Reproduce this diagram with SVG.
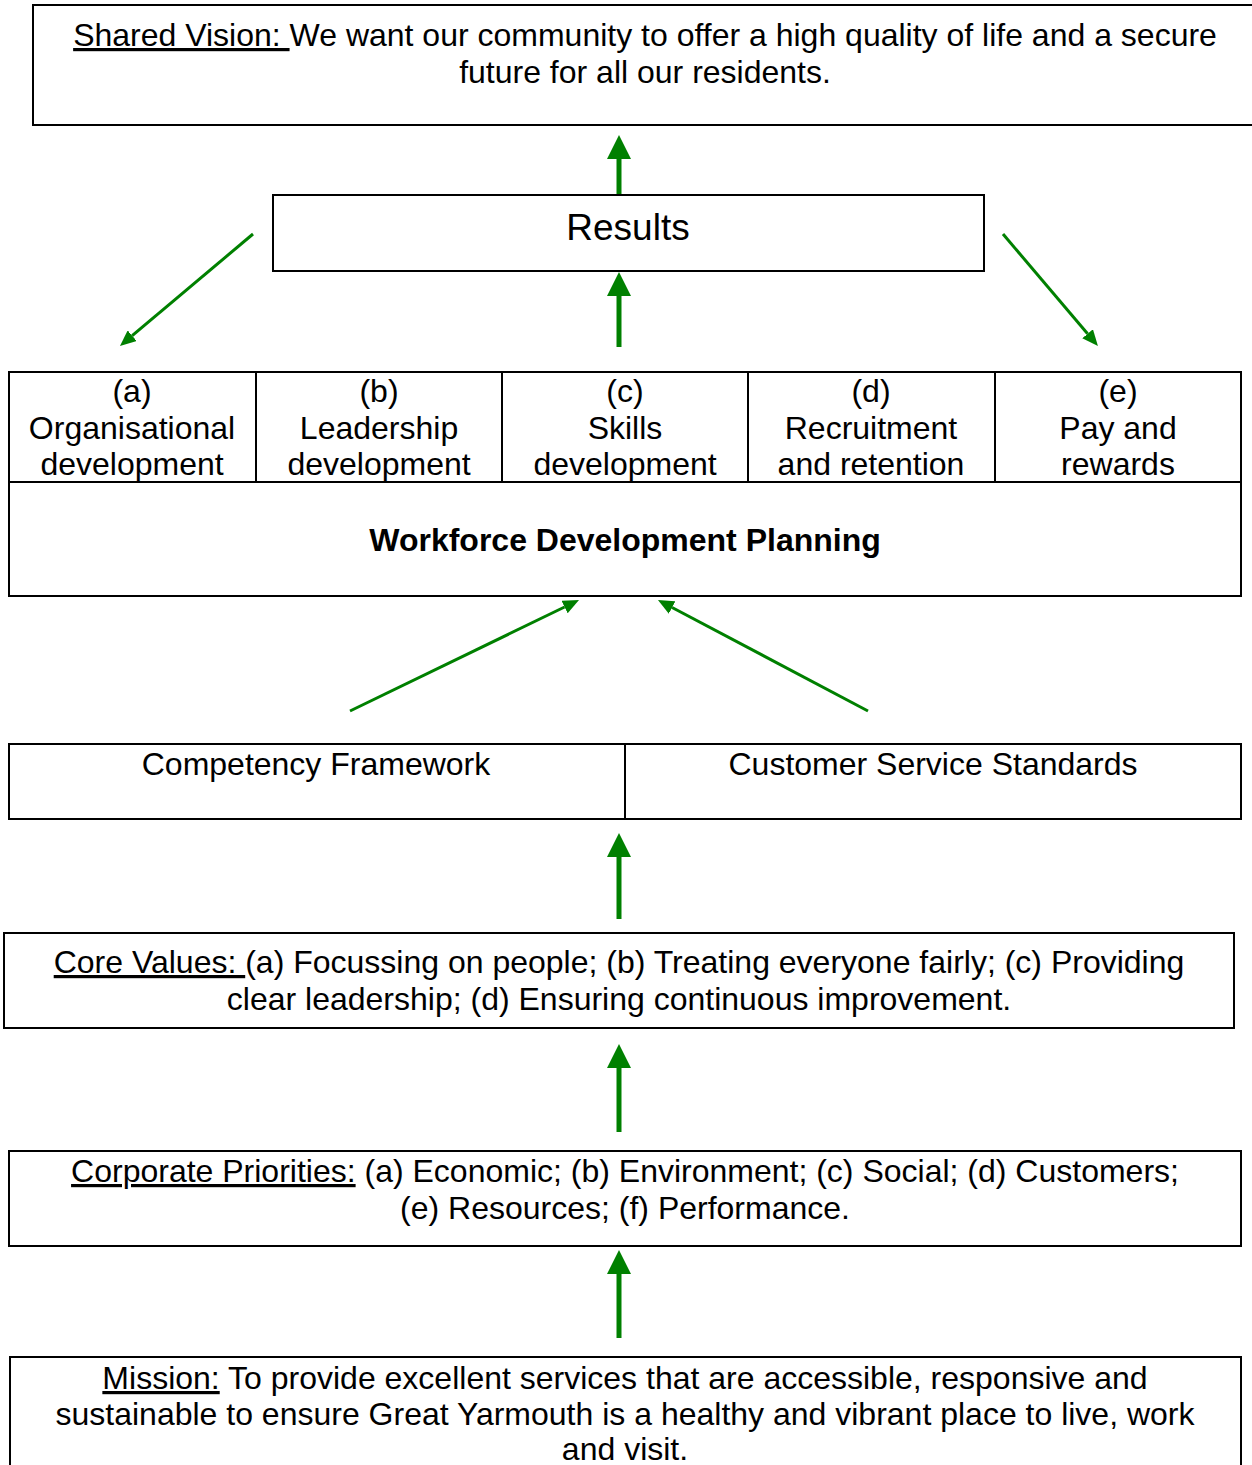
<svg xmlns="http://www.w3.org/2000/svg" width="1252" height="1465" viewBox="0 0 1252 1465">
<style>
.box{fill:#fff;stroke:#000;stroke-width:2}
.div{stroke:#000;stroke-width:2}
text{font-family:"Liberation Sans",Arial,sans-serif;font-size:32px;fill:#000;text-anchor:middle}
.u{text-decoration:underline}
.b{font-weight:bold}
.thick{stroke:#008000;stroke-width:5;fill:none}
.thin{stroke:#008000;stroke-width:3;fill:none}
</style>
<defs>
<marker id="big" markerUnits="userSpaceOnUse" markerWidth="24" markerHeight="24" refX="0" refY="12" orient="auto" viewBox="0 0 24 24">
<path d="M0,0 L24,12 L0,24 z" fill="#008000"/>
</marker>
<marker id="small" markerUnits="userSpaceOnUse" markerWidth="16" markerHeight="14" refX="0" refY="7" orient="auto" viewBox="0 0 16 14">
<path d="M0,0 L16,7 L0,14 z" fill="#008000"/>
</marker>
</defs>
<g id="vision">
<rect class="box" x="33" y="5" width="1230" height="120"/>
<text x="645" y="46"><tspan class="u">Shared Vision: </tspan>We want our community to offer a high quality of life and a secure</text>
<text x="645" y="83">future for all our residents.</text>
</g>
<g id="results">
<rect class="box" x="273" y="195" width="711" height="76"/>
<text x="628" y="240" style="font-size:37px">Results</text>
</g>
<g id="workforce">
<rect class="box" x="9" y="372" width="1232" height="224"/>
<line class="div" x1="9" y1="482" x2="1241" y2="482"/>
<line class="div" x1="256" y1="372" x2="256" y2="482"/>
<line class="div" x1="502" y1="372" x2="502" y2="482"/>
<line class="div" x1="748" y1="372" x2="748" y2="482"/>
<line class="div" x1="995" y1="372" x2="995" y2="482"/>
<text x="132" y="402">(a)</text>
<text x="132" y="439">Organisational</text>
<text x="132" y="475">development</text>
<text x="379" y="402">(b)</text>
<text x="379" y="439">Leadership</text>
<text x="379" y="475">development</text>
<text x="625" y="402">(c)</text>
<text x="625" y="439">Skills</text>
<text x="625" y="475">development</text>
<text x="871" y="402">(d)</text>
<text x="871" y="439">Recruitment</text>
<text x="871" y="475">and retention</text>
<text x="1118" y="402">(e)</text>
<text x="1118" y="439">Pay and</text>
<text x="1118" y="475">rewards</text>
<text class="b" x="625" y="551">Workforce Development Planning</text>
</g>
<g id="frameworks">
<rect class="box" x="9" y="744" width="1232" height="75"/>
<line class="div" x1="625" y1="744" x2="625" y2="819"/>
<text x="316" y="775">Competency Framework</text>
<text x="933" y="775">Customer Service Standards</text>
</g>
<g id="values">
<rect class="box" x="4" y="933" width="1230" height="95"/>
<text x="619" y="973"><tspan class="u">Core Values: </tspan>(a) Focussing on people; (b) Treating everyone fairly; (c) Providing</text>
<text x="619" y="1010">clear leadership; (d) Ensuring continuous improvement.</text>
</g>
<g id="priorities">
<rect class="box" x="9" y="1151" width="1232" height="95"/>
<text x="625" y="1182"><tspan class="u">Corporate Priorities:</tspan> (a) Economic; (b) Environment; (c) Social; (d) Customers;</text>
<text x="625" y="1219">(e) Resources; (f) Performance.</text>
</g>
<g id="mission">
<rect class="box" x="10" y="1357" width="1231" height="120"/>
<text x="625" y="1389"><tspan class="u">Mission:</tspan> To provide excellent services that are accessible, responsive and</text>
<text x="625" y="1425">sustainable to ensure Great Yarmouth is a healthy and vibrant place to live, work</text>
<text x="625" y="1460">and visit.</text>
</g>
<g id="connectors">
<line class="thick" x1="619" y1="194" x2="619" y2="159" marker-end="url(#big)"/>
<line class="thick" x1="619" y1="347" x2="619" y2="296" marker-end="url(#big)"/>
<line class="thick" x1="619" y1="919" x2="619" y2="857" marker-end="url(#big)"/>
<line class="thick" x1="619" y1="1132" x2="619" y2="1068" marker-end="url(#big)"/>
<line class="thick" x1="619" y1="1338" x2="619" y2="1274" marker-end="url(#big)"/>
<line class="thin" x1="253" y1="234" x2="132.2" y2="335.7" marker-end="url(#small)"/>
<line class="thin" x1="1003" y1="234" x2="1087.6" y2="333.8" marker-end="url(#small)"/>
<line class="thin" x1="350" y1="711" x2="564.6" y2="607" marker-end="url(#small)"/>
<line class="thin" x1="868" y1="711" x2="672.1" y2="607.5" marker-end="url(#small)"/>
</g>
</svg>
